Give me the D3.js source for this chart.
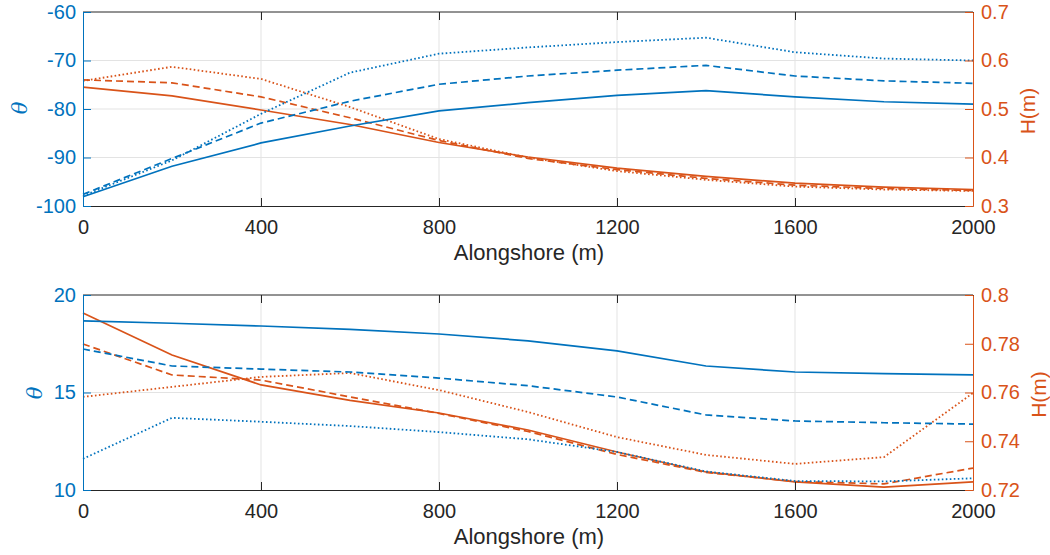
<!DOCTYPE html>
<html>
<head>
<meta charset="utf-8">
<script src="https://cdn.jsdelivr.net/npm/d3@7"></script>
<style>
  body { margin: 0; background: #fff; }
  svg { font-family: "Liberation Sans", Arial, sans-serif; }
</style>
</head>
<body>
<div id="chart"></div>
<script>
var xs = [0, 200, 400, 600, 800, 1000, 1200, 1400, 1600, 1800, 2000];
var xTicks = [0, 400, 800, 1200, 1600, 2000];

// top panel: theta (left) and H (right)
var topThetaSolid = [-98.1, -91.8, -87.0, -83.5, -80.4, -78.7, -77.2, -76.2, -77.5, -78.5, -79.0];
var topThetaDash = [-97.6, -90.2, -82.9, -78.4, -74.9, -73.2, -72.0, -71.0, -73.2, -74.2, -74.7];
var topThetaDot = [-97.9, -90.6, -81.0, -72.5, -68.6, -67.3, -66.2, -65.3, -68.3, -69.6, -70.0];
var topHSolid = [0.545, 0.527, 0.498, 0.468, 0.431, 0.401, 0.378, 0.361, 0.347, 0.339, 0.334];
var topHDash = [0.560, 0.554, 0.525, 0.482, 0.435, 0.398, 0.375, 0.357, 0.343, 0.336, 0.332];
var topHDot = [0.558, 0.587, 0.562, 0.504, 0.438, 0.400, 0.372, 0.354, 0.340, 0.334, 0.331];
var topThetaTicks = [-100, -90, -80, -70, -60];
var topHTicks = [0.3, 0.4, 0.5, 0.6, 0.7];

// bottom panel
var botThetaSolid = [18.67, 18.55, 18.41, 18.24, 18.0, 17.65, 17.13, 16.36, 16.05, 15.97, 15.9];
var botThetaDash = [17.23, 16.36, 16.2, 16.05, 15.74, 15.35, 14.77, 13.85, 13.54, 13.45, 13.38];
var botThetaDot = [11.6, 13.7, 13.5, 13.28, 12.97, 12.6, 11.95, 10.95, 10.46, 10.44, 10.6];
var botHSolid = [0.7926, 0.7754, 0.7631, 0.7568, 0.7516, 0.7446, 0.7356, 0.7274, 0.7233, 0.7212, 0.7233];
var botHDash = [0.7799, 0.7672, 0.7651, 0.7582, 0.7514, 0.7440, 0.7346, 0.7272, 0.7235, 0.7225, 0.7290];
var botHDot = [0.7582, 0.7623, 0.7664, 0.7680, 0.7610, 0.7520, 0.7417, 0.7344, 0.7307, 0.7335, 0.7598];
var botThetaTicks = [10, 15, 20];
var botHTicks = [0.72, 0.74, 0.76, 0.78, 0.8];

var blue = '#0072BD';
var orange = '#D95319';
var dark = '#262626';
var width = 1050, height = 555;
var left = 83, right = 973;
var tickFont = '20px';

var svg = d3.select('#chart').append('svg')
  .attr('width', width)
  .attr('height', height);

var dashes = { solid: null, dash: '7,4', dot: '1.6,2.4' };
var plain = function (d) { return String(d); };

function panel(cfg) {
  var x = d3.scaleLinear().domain([0, 2000]).range([left, right]);
  var yL = d3.scaleLinear().domain(cfg.thetaDomain).range([cfg.bottom, cfg.top]);
  var yR = d3.scaleLinear().domain(cfg.hDomain).range([cfg.bottom, cfg.top]);
  var g = svg.append('g');

  // grid
  g.append('g').selectAll('line')
    .data(xTicks.slice(1, -1))
    .enter().append('line')
    .attr('x1', function (d) { return x(d); })
    .attr('x2', function (d) { return x(d); })
    .attr('y1', cfg.top).attr('y2', cfg.bottom)
    .attr('stroke', '#e3e3e3').attr('stroke-width', 1);
  g.append('g').selectAll('line')
    .data(cfg.thetaTicks.slice(1, -1))
    .enter().append('line')
    .attr('x1', left).attr('x2', right)
    .attr('y1', function (d) { return yL(d); })
    .attr('y2', function (d) { return yL(d); })
    .attr('stroke', '#e3e3e3').attr('stroke-width', 1);

  var line = function (ys, yScale) {
    return d3.line()
      .x(function (d, i) { return x(xs[i]); })
      .y(function (d) { return yScale(d); })(ys);
  };

  var series = [
    { v: cfg.h[0], s: yR, c: orange, d: 'solid' },
    { v: cfg.h[1], s: yR, c: orange, d: 'dash' },
    { v: cfg.h[2], s: yR, c: orange, d: 'dot' },
    { v: cfg.theta[0], s: yL, c: blue, d: 'solid' },
    { v: cfg.theta[1], s: yL, c: blue, d: 'dash' },
    { v: cfg.theta[2], s: yL, c: blue, d: 'dot' }
  ];
  g.append('g').selectAll('path')
    .data(series)
    .enter().append('path')
    .attr('d', function (d) { return line(d.v, d.s); })
    .attr('fill', 'none')
    .attr('stroke', function (d) { return d.c; })
    .attr('stroke-width', function (d) { return d.d === 'dot' ? 1.8 : 1.7; })
    .attr('stroke-dasharray', function (d) { return dashes[d.d]; });

  // box top
  g.append('line').attr('x1', left).attr('x2', right)
    .attr('y1', cfg.top).attr('y2', cfg.top).attr('stroke', dark);

  // x axis
  var xAxis = d3.axisBottom(x).tickValues(xTicks).tickFormat(plain)
    .tickSizeInner(-8).tickSizeOuter(0).tickPadding(14);
  var gx = g.append('g').attr('transform', 'translate(0,' + cfg.bottom + ')').call(xAxis);
  gx.select('.domain').attr('stroke', dark);
  gx.selectAll('.tick line').attr('stroke', dark);
  gx.selectAll('.tick text').attr('fill', dark).style('font-size', tickFont);
  var gxt = g.append('g').attr('transform', 'translate(0,' + cfg.top + ')')
    .call(d3.axisTop(x).tickValues(xTicks).tickSizeInner(-8).tickSizeOuter(0).tickFormat(''));
  gxt.select('.domain').remove();
  gxt.selectAll('.tick line').attr('stroke', dark);

  // left axis
  var gl = g.append('g').attr('transform', 'translate(' + left + ',0)')
    .call(d3.axisLeft(yL).tickValues(cfg.thetaTicks).tickFormat(plain)
      .tickSizeInner(-8).tickSizeOuter(0).tickPadding(7));
  gl.select('.domain').attr('stroke', blue);
  gl.selectAll('.tick line').attr('stroke', blue);
  gl.selectAll('.tick text').attr('fill', blue).style('font-size', tickFont);

  // right axis
  var gr = g.append('g').attr('transform', 'translate(' + right + ',0)')
    .call(d3.axisRight(yR).tickValues(cfg.hTicks).tickFormat(plain)
      .tickSizeInner(-8).tickSizeOuter(0).tickPadding(8));
  gr.select('.domain').attr('stroke', orange);
  gr.selectAll('.tick line').attr('stroke', orange);
  gr.selectAll('.tick text').attr('fill', orange).style('font-size', tickFont);

  // labels
  g.append('text')
    .attr('transform', 'translate(' + cfg.thetaX + ',' + cfg.thetaY + ') rotate(-90)')
    .attr('text-anchor', 'middle')
    .attr('fill', blue)
    .style('font-size', '21px')
    .style('font-style', 'italic')
    .style('font-family', '"DejaVu Serif", serif')
    .text('θ');
  g.append('text')
    .attr('transform', 'translate(' + cfg.hX + ',' + ((cfg.top + cfg.bottom) / 2 + 2) + ') rotate(-90)')
    .attr('text-anchor', 'middle')
    .attr('fill', orange)
    .style('font-size', '21px')
    .text('H(m)');
  g.append('text')
    .attr('x', (left + right) / 2 + 1)
    .attr('y', cfg.bottom + 54)
    .attr('text-anchor', 'middle')
    .attr('fill', dark)
    .style('font-size', '22px')
    .text('Alongshore (m)');
}

panel({
  top: 12, bottom: 206,
  thetaDomain: [-100, -60], hDomain: [0.3, 0.7],
  thetaTicks: topThetaTicks, hTicks: topHTicks,
  theta: [topThetaSolid, topThetaDash, topThetaDot],
  h: [topHSolid, topHDash, topHDot],
  thetaX: 27, thetaY: 108, hX: 1035
});

panel({
  top: 295, bottom: 490,
  thetaDomain: [10, 20], hDomain: [0.72, 0.8],
  thetaTicks: botThetaTicks, hTicks: botHTicks,
  theta: [botThetaSolid, botThetaDash, botThetaDot],
  h: [botHSolid, botHDash, botHDot],
  thetaX: 42, thetaY: 393, hX: 1046
});
</script>
</body>
</html>
